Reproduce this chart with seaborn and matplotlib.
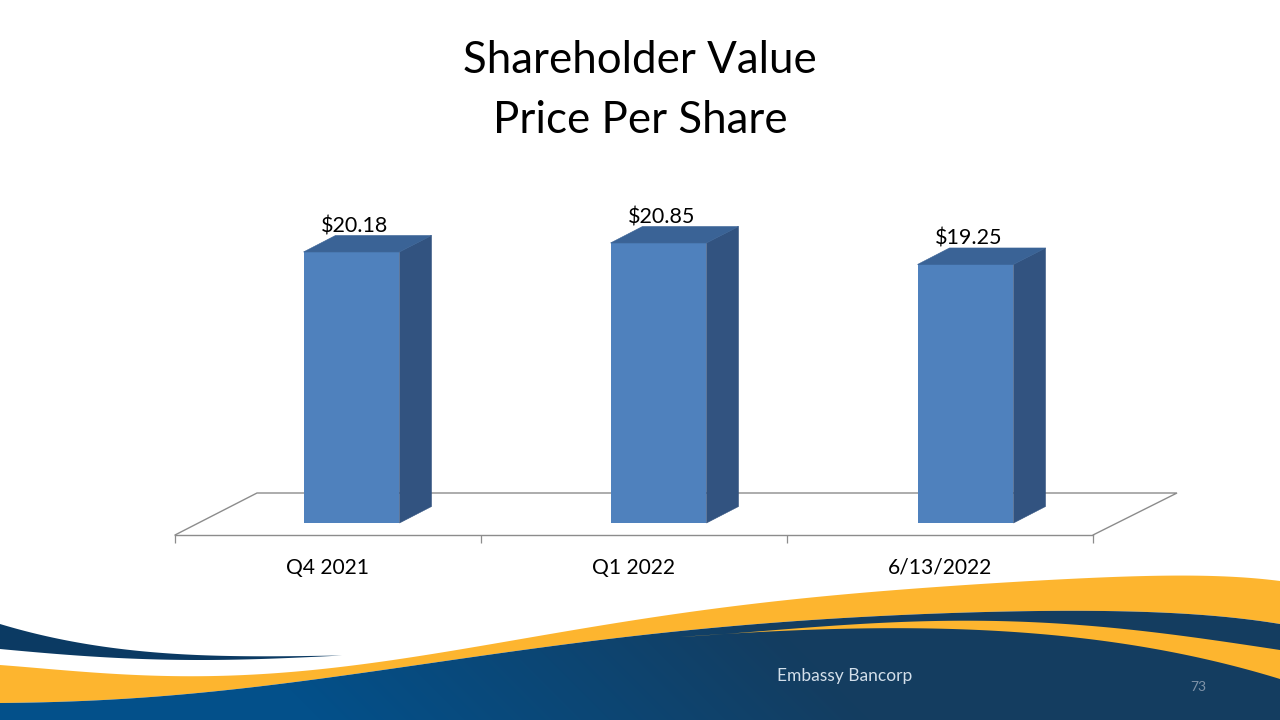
import numpy as np
import pandas as pd
import matplotlib
matplotlib.use("Agg")
import matplotlib.pyplot as plt
import seaborn as sns
from matplotlib.patches import Polygon
from matplotlib.transforms import Affine2D, IdentityTransform

periods = ["Q4 2021", "Q1 2022", "6/13/2022"]
prices = [20.18, 20.85, 19.25]
price_labels = ["$20.18", "$20.85", "$19.25"]

FRONT = "#4F81BD"
SIDE = "#325380"
TOP = "#3A6396"
LINE = "#8C8C8C"
GOLD = "#FDB52F"

W, H = 1280, 720
sns.set_theme(style="white")
plt.rcParams["font.family"] = ["Lato", "DejaVu Sans"]

fig = plt.figure(figsize=(W / 100, H / 100), dpi=100, facecolor="white")


def smooth(points, deg=5, n=300):
    """Smooth edge fitted through the points, held firmly at both ends."""
    p = np.array(points, dtype=float)
    x0, span = p[0, 0], p[-1, 0] - p[0, 0]
    u = (p[:, 0] - x0) / span
    weights = np.ones(len(p))
    weights[[0, -1]] = 20
    coef = np.polyfit(u, p[:, 1], deg, w=weights)
    grid = np.linspace(0, 1, n)
    return np.column_stack([x0 + grid * span, np.polyval(coef, grid)])


# Slide artwork, laid out in pixels from the top-left corner
bg = fig.add_axes([0, 0, 1, 1], zorder=0)
bg.set_xlim(0, W)
bg.set_ylim(H, 0)
bg.axis("off")

gold_top = smooth([(0, 665), (130, 675), (230, 675), (330, 668), (430, 656), (573, 628),
                   (730, 608), (860, 593), (1000, 582), (1100, 578), (1280, 581)], deg=6)
wave_top = smooth([(0, 703), (100, 700), (200, 693), (330, 677), (430, 664), (630, 635),
                   (763, 625), (860, 617), (1000, 611), (1100, 611), (1183, 614), (1280, 624)], deg=6)
gold_inner_top = smooth([(680, 637), (790, 629), (860, 624), (930, 621), (1000, 621), (1100, 627),
                         (1200, 638), (1280, 650)], deg=4)
gold_inner_bot = smooth([(680, 637), (790, 631), (860, 628), (930, 628), (1000, 632),
                         (1100, 640), (1200, 658), (1280, 679)], deg=4)
swoosh_top = smooth([(0, 624), (50, 637), (130, 650), (230, 656), (342, 655.5)], deg=4)
swoosh_bot = smooth([(0, 649), (100, 657), (200, 660), (300, 657.5), (342, 655.5)], deg=4)

bg.add_patch(Polygon(np.vstack([gold_top, wave_top[::-1]]), fc=GOLD, ec="none"))
bg.add_patch(Polygon(np.vstack([swoosh_top, swoosh_bot[::-1]]), fc="#0B3A63", ec="none"))

xx, yy = np.meshgrid(np.arange(W), np.arange(570, H))
shade = np.clip((xx - (yy - 650) - 250) / 550, 0, 1)
left_rgb = np.array([3, 80, 138]) / 255
right_rgb = np.array([20, 61, 96]) / 255
grad = left_rgb + (right_rgb - left_rgb) * shade[..., None]
img = bg.imshow(grad, extent=(0, W, H, 570), aspect="auto", interpolation="bilinear", zorder=1)
wave = Polygon(np.vstack([wave_top, [(W, H), (0, H)]]), fc="none", ec="none",
               transform=bg.transData)
bg.add_patch(wave)
img.set_clip_path(wave)
bg.set_xlim(0, W)
bg.set_ylim(H, 0)
bg.add_patch(Polygon(np.vstack([gold_inner_top, gold_inner_bot[::-1]]), fc=GOLD, ec="none", zorder=2))

# Back and side edges of the chart floor
bg.plot([175, 257, 1177, 1093], [535, 493, 493, 535], color=LINE, lw=1.0, zorder=3,
        solid_joinstyle="miter")

bg.text(640, 90.5, "Shareholder Value\nPrice Per Share", ha="center", va="center",
        fontsize=31.6, color="black", linespacing=1.55)
bg.text(844.5, 676, "Embassy Bancorp", ha="center", va="center", fontsize=12.5,
        color="#D3DFEA", zorder=4)
bg.text(1198, 687, "73", ha="center", va="center", fontsize=10, color="#7F93A8", zorder=4)

# Bar chart: the axis line sits on the front of the floor
PX_PER_DOLLAR = 13.43
Y_MAX = 25
ax = fig.add_axes([175 / W, (H - 535) / H, 918 / W, PX_PER_DOLLAR * Y_MAX / H], zorder=1)
ax.patch.set_alpha(0)

frame = pd.DataFrame({"period": periods, "price": prices})
sns.barplot(data=frame, x="period", y="price", color=FRONT, saturation=1, width=0.3127,
            ax=ax, zorder=3)
ax.set_xlim(-0.5, 2.5)
ax.set_ylim(0, Y_MAX)
ax.set_xlabel("")
ax.set_ylabel("")
ax.set_yticks([])
for side in ["top", "left", "right"]:
    ax.spines[side].set_visible(False)
ax.spines["bottom"].set_color(LINE)
ax.spines["bottom"].set_linewidth(1.0)
ax.set_xticks([-0.5, 0.5, 1.5, 2.5], minor=True)
ax.tick_params(axis="x", which="minor", length=6, width=0.9, color=LINE, direction="out", bottom=True)
ax.tick_params(axis="x", which="major", length=0, pad=28, labelsize=15.1, labelcolor="black")
for lab in ax.get_xticklabels():
    lab.set_verticalalignment("baseline")

# Extruded faces: bars stand back from the axis line, each with a side and a top
STAND_X, STAND_Y = 23, 12
DEPTH_X, DEPTH_Y = 32, 16.5
BAR_SPREAD = 307 / 306
front_tf = ax.transData + (Affine2D().translate(-175, 0).scale(BAR_SPREAD, 1)
                           .translate(175 + STAND_X, STAND_Y))
back_tf = front_tf + Affine2D().translate(DEPTH_X, DEPTH_Y)
for bar, text in zip(ax.patches, price_labels):
    x0, x1, h = bar.get_x(), bar.get_x() + bar.get_width(), bar.get_height()
    bar.set_transform(front_tf)
    bar.set_edgecolor("none")
    side_face = np.vstack([front_tf.transform([(x1, 0), (x1, h)]),
                           back_tf.transform([(x1, h), (x1, 0)])])
    top_face = np.vstack([front_tf.transform([(x0, h), (x1, h)]),
                          back_tf.transform([(x1, h), (x0, h)])])
    for verts, colour in ((side_face, SIDE), (top_face, TOP)):
        ax.add_patch(Polygon(verts, fc=colour, ec=colour, lw=0.4, transform=IdentityTransform(),
                             zorder=3, clip_on=False))
    ax.annotate(text, xy=((x0 + x1) / 2, h), xycoords=front_tf,
                xytext=(3.5, 15.5), textcoords="offset pixels", ha="center", va="bottom",
                fontsize=15.5, color="black", annotation_clip=False)

fig.savefig("out.png", dpi=100, facecolor="white")
